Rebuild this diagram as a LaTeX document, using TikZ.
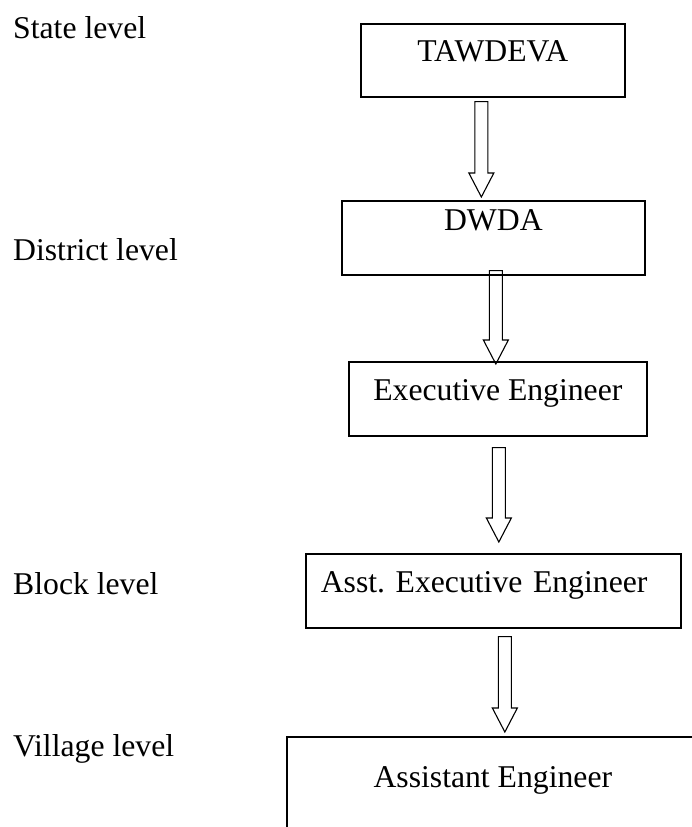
\documentclass[tikz,border=0pt]{standalone}
\usepackage{fontspec}
\setmainfont{Liberation Serif}
\usetikzlibrary{calc}
\begin{document}
\begin{tikzpicture}[x=1pt, y=1pt, font=\fontsize{31.7pt}{38pt}\selectfont, line join=miter]
	\tikzset{level box/.style={draw, line width=1.7pt, inner sep=0pt, anchor=north west},
		level label/.style={inner sep=0pt, anchor=base west},
		hollow arrow/.style={draw, line width=1.1pt, line join=miter, to path={let \p1=(\tikztostart), \p2=(\tikztotarget) in
			(\x1-6.5pt,\y1) -- (\x1+6.5pt,\y1) -- (\x1+6.5pt,\y2+24pt) -- (\x1+12.5pt,\y2+24pt) -- (\x1,\y2)
			-- (\x1-12.5pt,\y2+24pt) -- (\x1-6.5pt,\y2+24pt) -- cycle}}}
	\useasboundingbox (0,0) rectangle (692,827);
	\clip (0,0) rectangle (692,827);
	% levels
	\node[level label] (state) at (13,788) {State level};
	\node[level label] (district) at (13,566) {District level};
	\node[level label] (block) at (13,232) {Block level};
	\node[level label] (village) at (13,70) {Village level};
	% boxes
	\node[level box, minimum width=264pt, text height=38pt, text depth=35pt] (tawdeva) at (360,804) {TAWDEVA};
	\node[level box, minimum width=303pt, text height=30pt, text depth=44pt] (dwda) at (341,627) {DWDA};
	\node[level box, minimum width=298pt, text height=39pt, text depth=35pt] (exeng) at (348,466) {Executive Engineer};
	\node[level box, text width=345pt, inner xsep=15pt, align=left, text height=39pt, text depth=35pt] (asstexeng) at (305,274) {Asst.\ Executive Engineer};
	\node[level box, minimum width=412pt, text height=51pt, text depth=70pt] (asstengr) at (286,91) {Assistant Engineer};
	% arrows
	\draw[hollow arrow] ([xshift=-11.5pt, yshift=-4pt]tawdeva.south) to ([yshift=3pt]dwda.north);
	\draw[hollow arrow] ([xshift=2.5pt, yshift=5pt]dwda.south) to ([yshift=-3pt]exeng.north);
	\draw[hollow arrow] ([xshift=1pt, yshift=-11pt]exeng.south) to ([yshift=11pt]asstexeng.north);
	\draw[hollow arrow] ([xshift=11.5pt, yshift=-8pt]asstexeng.south) to ([yshift=4pt]asstengr.north);
\end{tikzpicture}
\end{document}
